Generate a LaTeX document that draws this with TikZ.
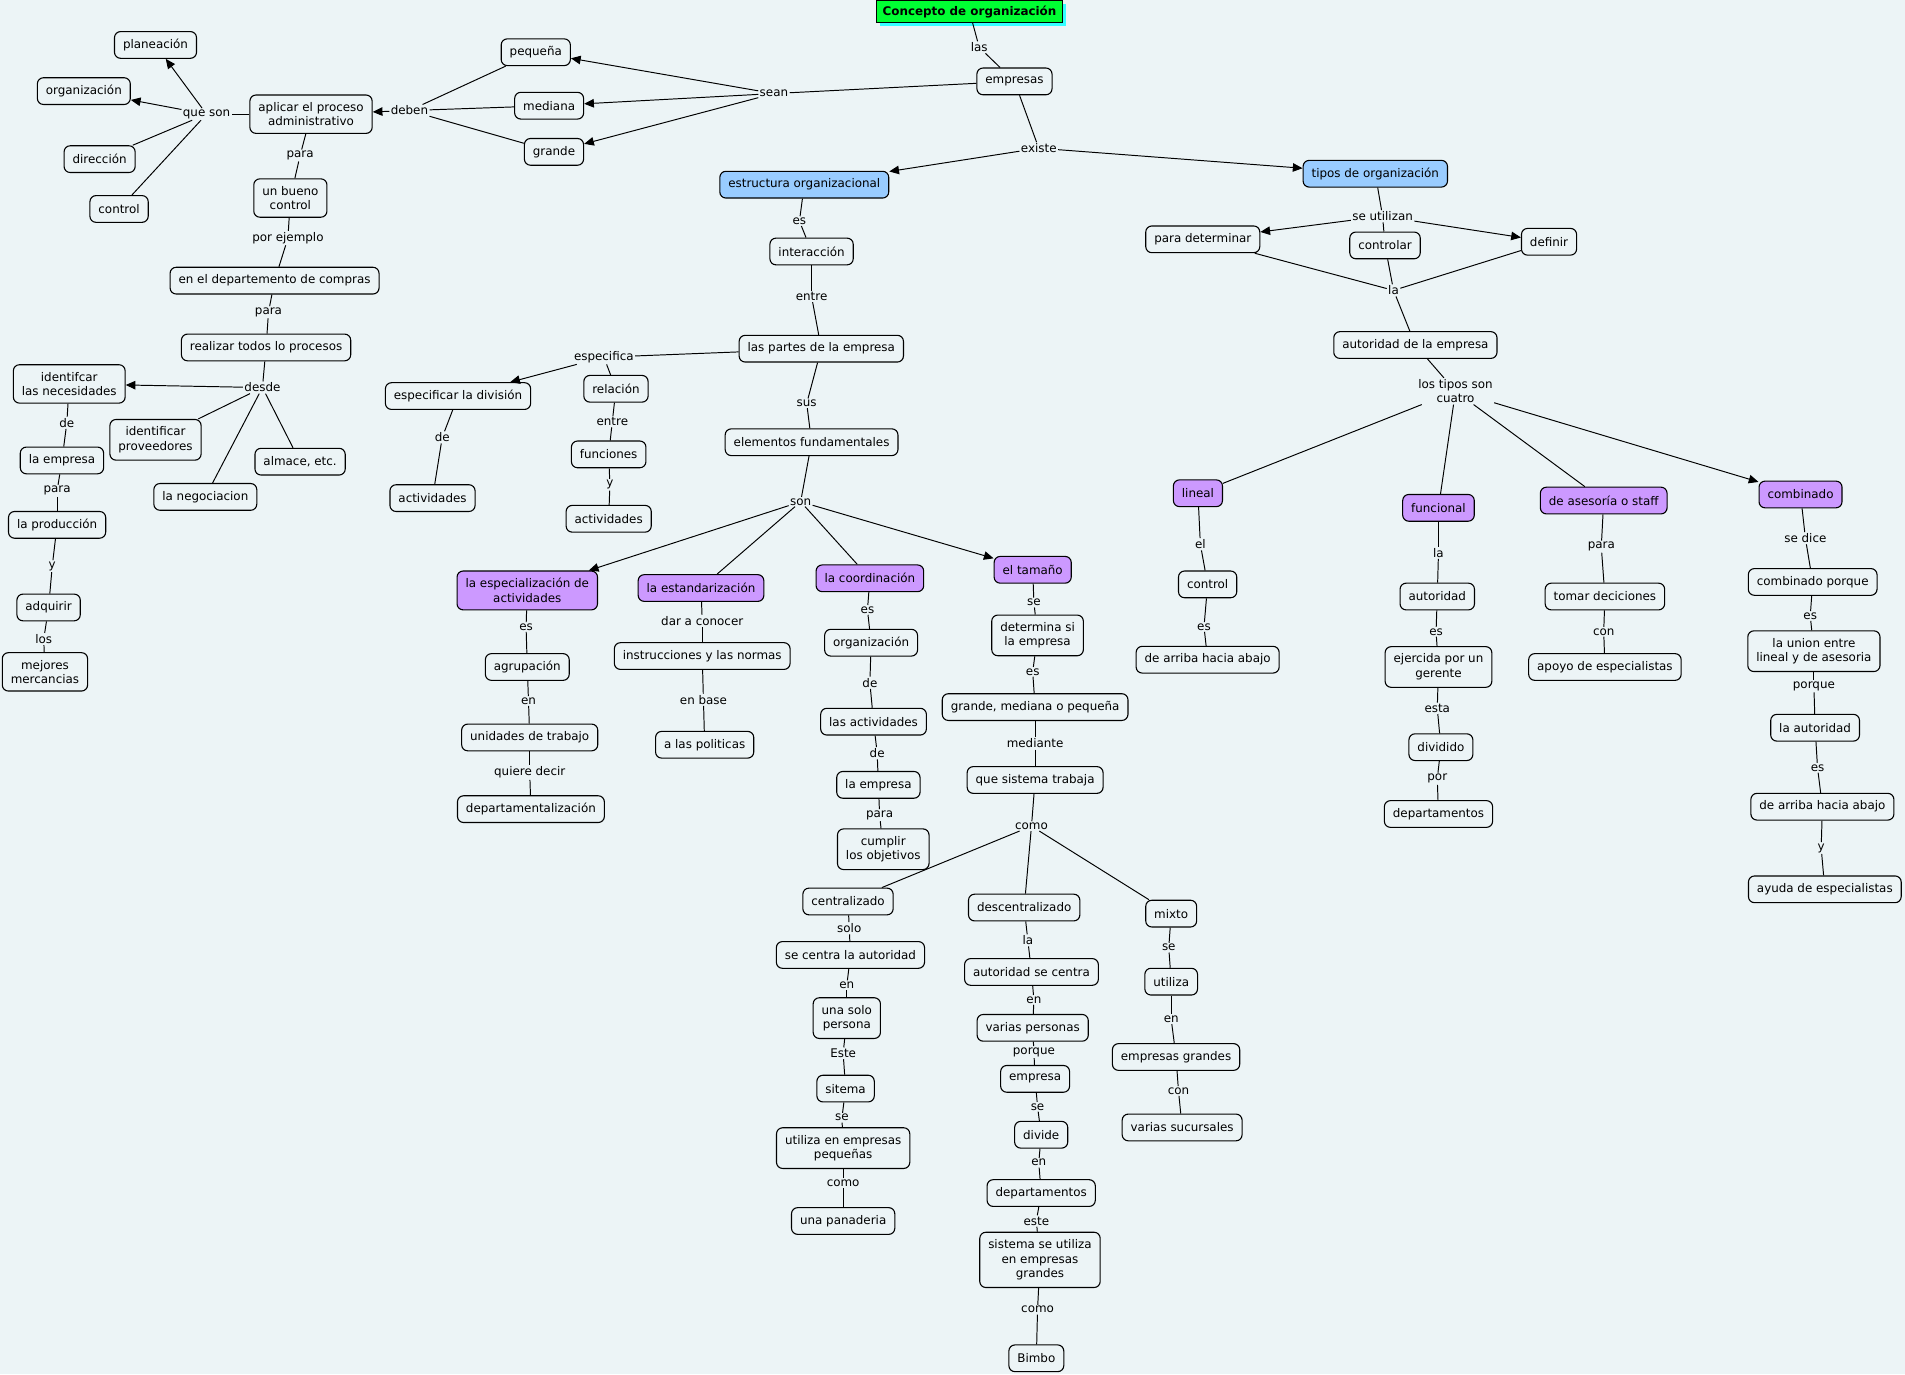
\documentclass[tikz,border=0pt]{standalone}
\usepackage{fontspec}
\setmainfont{DejaVu Sans}
\usetikzlibrary{arrows.meta,shadows}
\definecolor{bgc}{HTML}{ECF4F6}
\definecolor{bluec}{HTML}{99CCFF}
\definecolor{purc}{HTML}{CC99FF}
\definecolor{greenc}{HTML}{00FF33}
\definecolor{cyanc}{HTML}{33FFFF}
\tikzset{
  cbox/.style={draw,line width=0.9pt,rounded corners=5pt,fill=bgc,align=center,inner xsep=7pt,inner ysep=6pt,minimum height=22pt,font=\fontsize{9.8}{12}\selectfont},
  blu/.style={cbox,fill=bluec},
  pur/.style={cbox,fill=purc},
  ttl/.style={draw,line width=0.8pt,fill=greenc,inner xsep=5pt,minimum height=18pt,font=\fontsize{9.8}{12}\selectfont\bfseries,
    drop shadow={fill=cyanc,opacity=1,shadow xshift=3pt,shadow yshift=-2.5pt}},
  lk/.style={inner sep=1pt,align=center,font=\fontsize{9.8}{12}\selectfont},
  ln/.style={line width=0.8pt},
  ar/.style={line width=0.8pt,-{Triangle[length=8pt,width=7pt]}}
}
\begin{document}
\begin{tikzpicture}[x=1pt,y=-1pt]
\fill[bgc] (0,0) rectangle (1568,1131);
\useasboundingbox (0,0) rectangle (1568,1131);
% top
\node[ttl] (tit) at (798,9.5) {Concepto de organización};
\node[lk] (lLas) at (806,39) {las};
\node[cbox] (emp) at (835,67) {empresas};
\node[lk] (lSean) at (637,77) {sean};
\node[cbox] (peq) at (441,43) {pequeña};
\node[cbox] (med) at (452,87) {mediana};
\node[cbox] (gra) at (456,125) {grande};
\node[lk] (lDeben) at (337,91) {deben};
\node[cbox] (apl) at (256,94) {aplicar el proceso\\administrativo};
\node[lk] (lQue) at (170,94) {que son};
\node[cbox] (plan) at (128,37) {planeación};
\node[cbox] (org) at (69,75) {organización};
\node[cbox] (dir) at (82,131) {dirección};
\node[cbox] (ctl) at (98,172) {control};
\node[lk] (lPara1) at (247,128) {para};
\node[cbox] (bue) at (239,163) {un bueno\\control};
\node[lk] (lPor) at (237,196) {por ejemplo};
\node[cbox] (dep) at (226,231) {en el departemento de compras};
\node[lk] (lPara2) at (221,257) {para};
\node[cbox] (rea) at (219,286) {realizar todos lo procesos};
\node[lk] (lDesde) at (216,319) {desde};
\node[cbox] (nec) at (57,316) {identifcar\\las necesidades};
\node[cbox] (prov) at (128,362) {identificar\\proveedores};
\node[cbox] (alm) at (247,380) {almace, etc.};
\node[cbox] (neg) at (169,409) {la negociacion};
\node[lk] (lDe1) at (55,348) {de};
\node[cbox] (emp2) at (51,379) {la empresa};
\node[lk] (lPara3) at (47,404) {para};
\node[cbox] (prod) at (47,432) {la producción};
\node[lk] (lY1) at (43,466) {y};
\node[cbox] (adq) at (40,500) {adquirir};
\node[lk] (lLos) at (36,526) {los};
\node[cbox] (mej) at (37,553) {mejores\\mercancias};
% estructura
\node[lk] (lExiste) at (855,122) {existe};
\node[blu] (est) at (662,152) {estructura organizacional};
\node[blu] (tip) at (1132,143) {tipos de organización};
\node[lk] (lEs1) at (658,182) {es};
\node[cbox] (inter) at (668,207) {interacción};
\node[lk] (lEntre1) at (668,244) {entre};
\node[cbox] (par) at (676,287) {las partes de la empresa};
\node[lk] (lEspec) at (497,294) {especifica};
\node[cbox] (div) at (377,326) {especificar la división};
\node[lk] (lDe2) at (364,360) {de};
\node[cbox] (act1) at (356,410) {actividades};
\node[cbox] (rel) at (507,320) {relación};
\node[lk] (lEntre2) at (504,347) {entre};
\node[cbox] (fun) at (501,374) {funciones};
\node[lk] (lY2) at (502,399) {y};
\node[cbox] (act2) at (501,427) {actividades};
\node[lk] (lSus) at (664,332) {sus};
\node[cbox] (ele) at (668,364) {elementos fundamentales};
\node[lk] (lSon) at (659,413) {son};
\node[pur] (esp) at (434,486) {la especialización de\\actividades};
\node[pur] (estd) at (577,484) {la estandarización};
\node[pur] (coo) at (716,476) {la coordinación};
\node[pur] (tam) at (850,469) {el tamaño};
\node[lk] (lEs2) at (433,516) {es};
\node[cbox] (agr) at (434,549) {agrupación};
\node[lk] (lEn1) at (435,577) {en};
\node[cbox] (uni) at (436,607) {unidades de trabajo};
\node[lk] (lQuiere) at (436,636) {quiere decir};
\node[cbox] (dpt) at (437,666) {departamentalización};
\node[lk] (lDar) at (578,511) {dar a conocer};
\node[cbox] (ins) at (578,540) {instrucciones y las normas};
\node[lk] (lBase) at (579,576) {en base};
\node[cbox] (pol) at (580,613) {a las politicas};
\node[lk] (lEs3) at (714,502) {es};
\node[cbox] (org2) at (717,529) {organización};
\node[lk] (lDe3) at (716,562) {de};
\node[cbox] (acts) at (719,594) {las actividades};
\node[lk] (lDe4) at (722,620) {de};
\node[cbox] (emp3) at (723,646) {la empresa};
\node[lk] (lPara4) at (724,671) {para};
\node[cbox] (cum) at (727,699) {cumplir\\los objetivos};
% tamano
\node[lk] (lSe1) at (851,496) {se};
\node[cbox] (det) at (854,523) {determina si\\la empresa};
\node[lk] (lEs4) at (850,553) {es};
\node[cbox] (gmp) at (852,582) {grande, mediana o pequeña};
\node[lk] (lMed) at (852,612) {mediante};
\node[cbox] (sis) at (852,642) {que sistema trabaja};
\node[lk] (lComo1) at (849,680) {como};
\node[cbox] (cen) at (698,742) {centralizado};
\node[cbox] (des) at (843,747) {descentralizado};
\node[cbox] (mix) at (964,752) {mixto};
\node[lk] (lSolo) at (699,764) {solo};
\node[cbox] (sca) at (700,786) {se centra la autoridad};
\node[lk] (lEn2) at (697,811) {en};
\node[cbox] (una) at (697,838) {una solo\\persona};
\node[lk] (lEste1) at (694,867) {Este};
\node[cbox] (sit) at (696,896) {sitema};
\node[lk] (lSe2) at (693,920) {se};
\node[cbox] (upq) at (694,945) {utiliza en empresas\\pequeñas};
\node[lk] (lComo2) at (694,974) {como};
\node[cbox] (pan) at (694,1005) {una panaderia};
\node[lk] (lLa1) at (846,774) {la};
\node[cbox] (asc) at (849,800) {autoridad se centra};
\node[lk] (lEn3) at (851,823) {en};
\node[cbox] (vp) at (850,846) {varias personas};
\node[lk] (lPorque1) at (851,866) {porque};
\node[cbox] (emp4) at (852,888) {empresa};
\node[lk] (lSe3) at (854,911) {se};
\node[cbox] (dvd) at (857,934) {divide};
\node[lk] (lEn4) at (855,957) {en};
\node[cbox] (dpts) at (857,982) {departamentos};
\node[lk] (lEste2) at (853,1005) {este};
\node[cbox] (sug) at (856,1037) {sistema se utiliza\\en empresas\\grandes};
\node[lk] (lComo3) at (854,1078) {como};
\node[cbox] (bim) at (853,1118) {Bimbo};
\node[lk] (lSe4) at (962,780) {se};
\node[cbox] (uti) at (964,808) {utiliza};
\node[lk] (lEn5) at (964,839) {en};
\node[cbox] (eg) at (968,870) {empresas grandes};
\node[lk] (lCon1) at (970,898) {con};
\node[cbox] (vs) at (973,928) {varias sucursales};
% tipos
\node[lk] (lSeUt) at (1138,178) {se utilizan};
\node[cbox] (pdet) at (990,197) {para determinar};
\node[cbox] (ctr) at (1140,202) {controlar};
\node[cbox] (def) at (1275,199) {definir};
\node[lk] (lLa2) at (1147,239) {la};
\node[cbox] (aut) at (1165,284) {autoridad de la empresa};
\node[lk] (lTipos) at (1198,322) {los tipos son\\cuatro};
\node[pur] (lin) at (986,406) {lineal};
\node[pur] (fun2) at (1184,418) {funcional};
\node[pur] (ase) at (1320,412) {de asesoría o staff};
\node[pur] (comb) at (1482,407) {combinado};
\node[lk] (lEl) at (988,448) {el};
\node[cbox] (ctl2) at (994,481) {control};
\node[lk] (lEs5) at (991,516) {es};
\node[cbox] (arr1) at (994,543) {de arriba hacia abajo};
\node[lk] (lLa3) at (1184,455) {la};
\node[cbox] (aut2) at (1183,491) {autoridad};
\node[lk] (lEs6) at (1182,520) {es};
\node[cbox] (eje) at (1184,549) {ejercida por un\\gerente};
\node[lk] (lEsta) at (1183,583) {esta};
\node[cbox] (dvdo) at (1186,615) {dividido};
\node[lk] (lPor2) at (1183,641) {por};
\node[cbox] (dpts2) at (1184,670) {departamentos};
\node[lk] (lPara5) at (1318,450) {para};
\node[cbox] (tom) at (1321,491) {tomar deciciones};
\node[lk] (lCon2) at (1320,520) {con};
\node[cbox] (apo) at (1321,549) {apoyo de especialistas};
\node[lk] (lDice) at (1486,443) {se dice};
\node[cbox] (cpq) at (1492,479) {combinado porque};
\node[lk] (lEs7) at (1490,507) {es};
\node[cbox] (uni2) at (1493,536) {la union entre\\lineal y de asesoria};
\node[lk] (lPorque2) at (1493,565) {porque};
\node[cbox] (laut) at (1494,599) {la autoridad};
\node[lk] (lEs8) at (1496,632) {es};
\node[cbox] (arr2) at (1500,664) {de arriba hacia abajo};
\node[lk] (lY3) at (1499,698) {y};
\node[cbox] (ayu) at (1502,732) {ayuda de especialistas};
% links
\foreach \a/\b in {tit/lLas,lLas/emp,emp/lSean,emp/lExiste,peq/lDeben,med/lDeben,gra/lDeben,
  apl/lQue,lQue/dir,lQue/ctl,apl/lPara1,lPara1/bue,bue/lPor,lPor/dep,dep/lPara2,lPara2/rea,rea/lDesde,
  lDesde/prov,lDesde/alm,lDesde/neg,nec/lDe1,lDe1/emp2,emp2/lPara3,lPara3/prod,prod/lY1,lY1/adq,adq/lLos,lLos/mej,
  est/lEs1,lEs1/inter,inter/lEntre1,lEntre1/par,par/lEspec,lEspec/rel,rel/lEntre2,lEntre2/fun,fun/lY2,lY2/act2,
  div/lDe2,lDe2/act1,par/lSus,lSus/ele,ele/lSon,lSon/estd,lSon/coo,
  esp/lEs2,lEs2/agr,agr/lEn1,lEn1/uni,uni/lQuiere,lQuiere/dpt,estd/lDar,lDar/ins,ins/lBase,lBase/pol,
  coo/lEs3,lEs3/org2,org2/lDe3,lDe3/acts,acts/lDe4,lDe4/emp3,emp3/lPara4,lPara4/cum,
  tam/lSe1,lSe1/det,det/lEs4,lEs4/gmp,gmp/lMed,lMed/sis,sis/lComo1,lComo1/cen,lComo1/des,lComo1/mix,
  cen/lSolo,lSolo/sca,sca/lEn2,lEn2/una,una/lEste1,lEste1/sit,sit/lSe2,lSe2/upq,upq/lComo2,lComo2/pan,
  des/lLa1,lLa1/asc,asc/lEn3,lEn3/vp,vp/lPorque1,lPorque1/emp4,emp4/lSe3,lSe3/dvd,dvd/lEn4,lEn4/dpts,
  dpts/lEste2,lEste2/sug,sug/lComo3,lComo3/bim,mix/lSe4,lSe4/uti,uti/lEn5,lEn5/eg,eg/lCon1,lCon1/vs,
  tip/lSeUt,lSeUt/ctr,pdet/lLa2,ctr/lLa2,def/lLa2,lLa2/aut,aut/lTipos,lTipos/lin,lTipos/fun2,lTipos/ase,
  lin/lEl,lEl/ctl2,ctl2/lEs5,lEs5/arr1,fun2/lLa3,lLa3/aut2,aut2/lEs6,lEs6/eje,eje/lEsta,lEsta/dvdo,dvdo/lPor2,lPor2/dpts2,
  ase/lPara5,lPara5/tom,tom/lCon2,lCon2/apo,comb/lDice,lDice/cpq,cpq/lEs7,lEs7/uni2,uni2/lPorque2,lPorque2/laut,
  laut/lEs8,lEs8/arr2,arr2/lY3,lY3/ayu}
  \draw[ln] (\a) -- (\b);
% arrows
\foreach \a/\b in {lSean/peq,lSean/med,lSean/gra,lDeben/apl,lQue/plan,lQue/org,lExiste/est,lExiste/tip,
  lSeUt/pdet,lSeUt/def,lEspec/div,lDesde/nec,lSon/esp,lSon/tam,lTipos/comb}
  \draw[ar] (\a) -- (\b);
\end{tikzpicture}
\end{document}
